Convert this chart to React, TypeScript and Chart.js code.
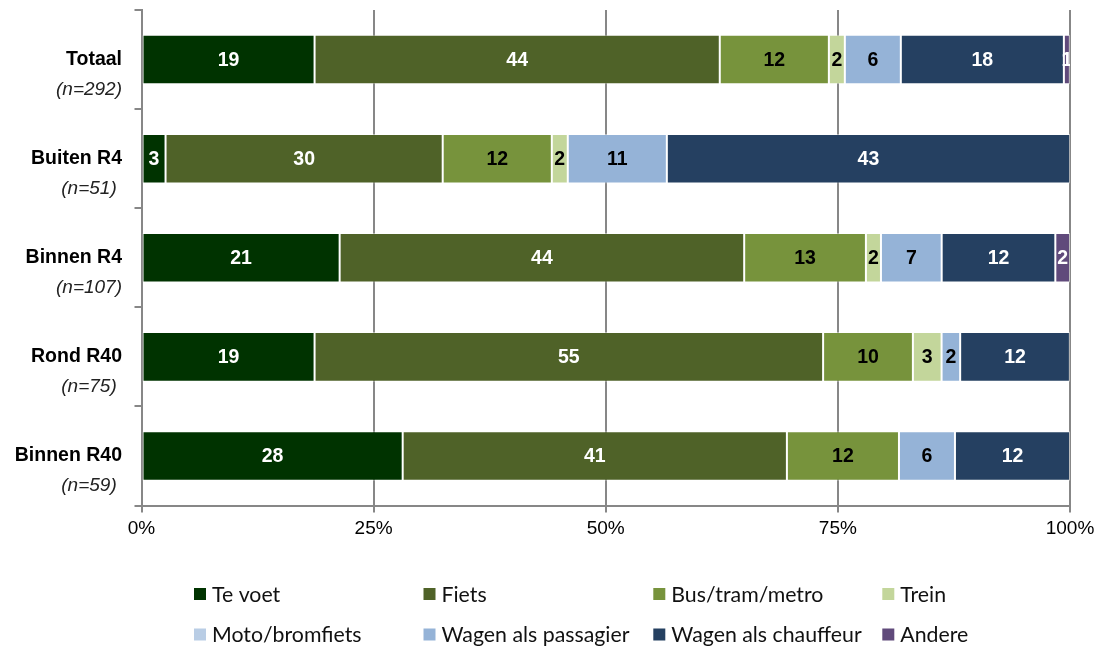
import React, { useEffect, useRef } from 'react';
import { Chart, registerables } from 'chart.js';

Chart.register(...registerables);

// ---- Data ----
const categories = ['Totaal', 'Buiten R4', 'Binnen R4', 'Rond R40', 'Binnen R40'];
const sampleSizes = ['(n=292)', '(n=51) ', '(n=107)', '(n=75) ', '(n=59) '];

const seriesNames = [
  'Te voet',
  'Fiets',
  'Bus/tram/metro',
  'Trein',
  'Moto/bromfiets',
  'Wagen als passagier',
  'Wagen als chauffeur',
  'Andere',
];

const teVoet = [18.64, 2.59, 21.34, 18.64, 28.13];
const fiets = [43.64, 29.85, 43.57, 54.77, 41.38];
const busTramMetro = [11.75, 11.75, 13.11, 9.67, 12.07];
const trein = [1.72, 1.72, 1.62, 3.09, 0];
const motoBromfiets = [0, 0, 0, 0, 0];
const wagenPassagier = [6.03, 10.67, 6.54, 2.0, 6.03];
const wagenChauffeur = [17.56, 43.43, 12.24, 11.82, 12.39];
const andere = [0.65, 0, 1.58, 0, 0];

const xTicks = [0, 25, 50, 75, 100];

const seriesValues = [teVoet, fiets, busTramMetro, trein, motoBromfiets, wagenPassagier, wagenChauffeur, andere];
const seriesColors = ['#003300', '#4F6228', '#77933C', '#C3D69B', '#B9CDE5', '#95B3D7', '#254061', '#604A7B'];
const labelColors = ['#ffffff', '#ffffff', '#000000', '#000000', '#000000', '#000000', '#ffffff', '#ffffff'];

const FONT = "Arial, 'Liberation Sans', Helvetica, sans-serif";
const LEGEND_FONT = "Lato, 'Liberation Sans', sans-serif";
const GRID = '#878787';

const dataLabelPlugin = {
  id: 'dataLabelPlugin',
  afterDatasetsDraw(chart: any) {
    const ctx = chart.ctx;
    const area = chart.chartArea;
    ctx.save();
    ctx.beginPath();
    ctx.rect(area.left, area.top, area.right - area.left, area.bottom - area.top);
    ctx.clip();
    ctx.font = `bold 19.5px ${FONT}`;
    ctx.textAlign = 'center';
    ctx.textBaseline = 'middle';
    chart.data.datasets.forEach((ds: any, di: number) => {
      const meta = chart.getDatasetMeta(di);
      meta.data.forEach((el: any, i: number) => {
        const v = ds.data[i];
        if (v == null || v < 0.5) return;
        const cx = (el.x + el.base) / 2;
        ctx.fillStyle = labelColors[di];
        ctx.fillText(String(Math.round(v)), cx, el.y + 1);
      });
    });
    ctx.restore();
  },
};

const yLabelPlugin = {
  id: 'yLabelPlugin',
  afterDraw(chart: any) {
    const ctx = chart.ctx;
    const ys = chart.scales.y;
    ctx.save();
    ctx.textAlign = 'right';
    ctx.textBaseline = 'middle';
    categories.forEach((c, i) => {
      const y = ys.getPixelForValue(i);
      ctx.fillStyle = '#000';
      ctx.font = `bold 19.5px ${FONT}`;
      ctx.fillText(c, 122, y);
      ctx.font = `italic 19px ${FONT}`;
      ctx.fillStyle = '#222';
      ctx.fillText(sampleSizes[i], 122, y + 30);
    });
    ctx.restore();
  },
};

const legendPlugin = {
  id: 'gridLegend',
  afterDraw(chart: any) {
    const ctx = chart.ctx;
    const cols = [194, 423.5, 653.3, 882.3];
    const rows = [594, 634.5];
    ctx.save();
    ctx.font = `21.3px ${LEGEND_FONT}`;
    ctx.textAlign = 'left';
    ctx.textBaseline = 'middle';
    chart.data.datasets.forEach((ds: any, i: number) => {
      const x = cols[i % 4];
      const y = rows[Math.floor(i / 4)];
      ctx.fillStyle = ds.backgroundColor;
      ctx.fillRect(x, y - 6, 12, 12);
      ctx.fillStyle = '#111';
      ctx.fillText(ds.label, x + 18, y + 1);
    });
    ctx.restore();
  },
};

export default function App() {
  const canvasRef = useRef<HTMLCanvasElement | null>(null);

  useEffect(() => {
    if (!canvasRef.current) return;
    const chart = new Chart(canvasRef.current, {
      type: 'bar',
      data: {
        labels: categories,
        datasets: seriesNames.map((name, i) => ({
          label: name,
          data: seriesValues[i],
          backgroundColor: seriesColors[i],
          borderColor: 'rgba(255,255,255,0.45)',
          borderWidth: 1,
          borderSkipped: false,
          barPercentage: 0.5,
          categoryPercentage: 1.0,
        })),
      },
      options: {
        indexAxis: 'y',
        animation: false,
        responsive: true,
        maintainAspectRatio: false,
        layout: { padding: { top: 10, right: 37, bottom: 100.5, left: 0 } },
        plugins: {
          legend: { display: false },
          tooltip: { enabled: false },
        },
        scales: {
          x: {
            stacked: true,
            min: 0,
            max: 100,
            afterBuildTicks: (s: any) => {
              s.ticks = xTicks.map((v) => ({ value: v }));
            },
            afterFit: (s: any) => {
              s.height = 40;
            },
            grid: { color: GRID, lineWidth: 2, drawTicks: true, tickLength: 7 },
            border: { display: true, color: GRID, width: 2 },
            ticks: {
              color: '#000',
              font: { family: FONT, size: 19 },
              padding: 5,
              maxRotation: 0,
              callback: (v: any) => `${v}%`,
            },
          },
          y: {
            stacked: true,
            offset: true,
            afterFit: (s: any) => {
              s.width = 141.5;
            },
            grid: {
              offset: true,
              drawOnChartArea: false,
              drawTicks: true,
              tickLength: 7,
              color: GRID,
              lineWidth: 2,
            },
            border: { display: true, color: GRID, width: 2 },
            ticks: { display: false },
          },
        },
      },
      plugins: [dataLabelPlugin, yLabelPlugin, legendPlugin],
    });
    return () => chart.destroy();
  }, []);

  return (
    <div style={{ position: 'fixed', left: 0, top: 0, width: 1107, height: 646, background: '#fff' }}>
      <canvas ref={canvasRef} />
    </div>
  );
}
